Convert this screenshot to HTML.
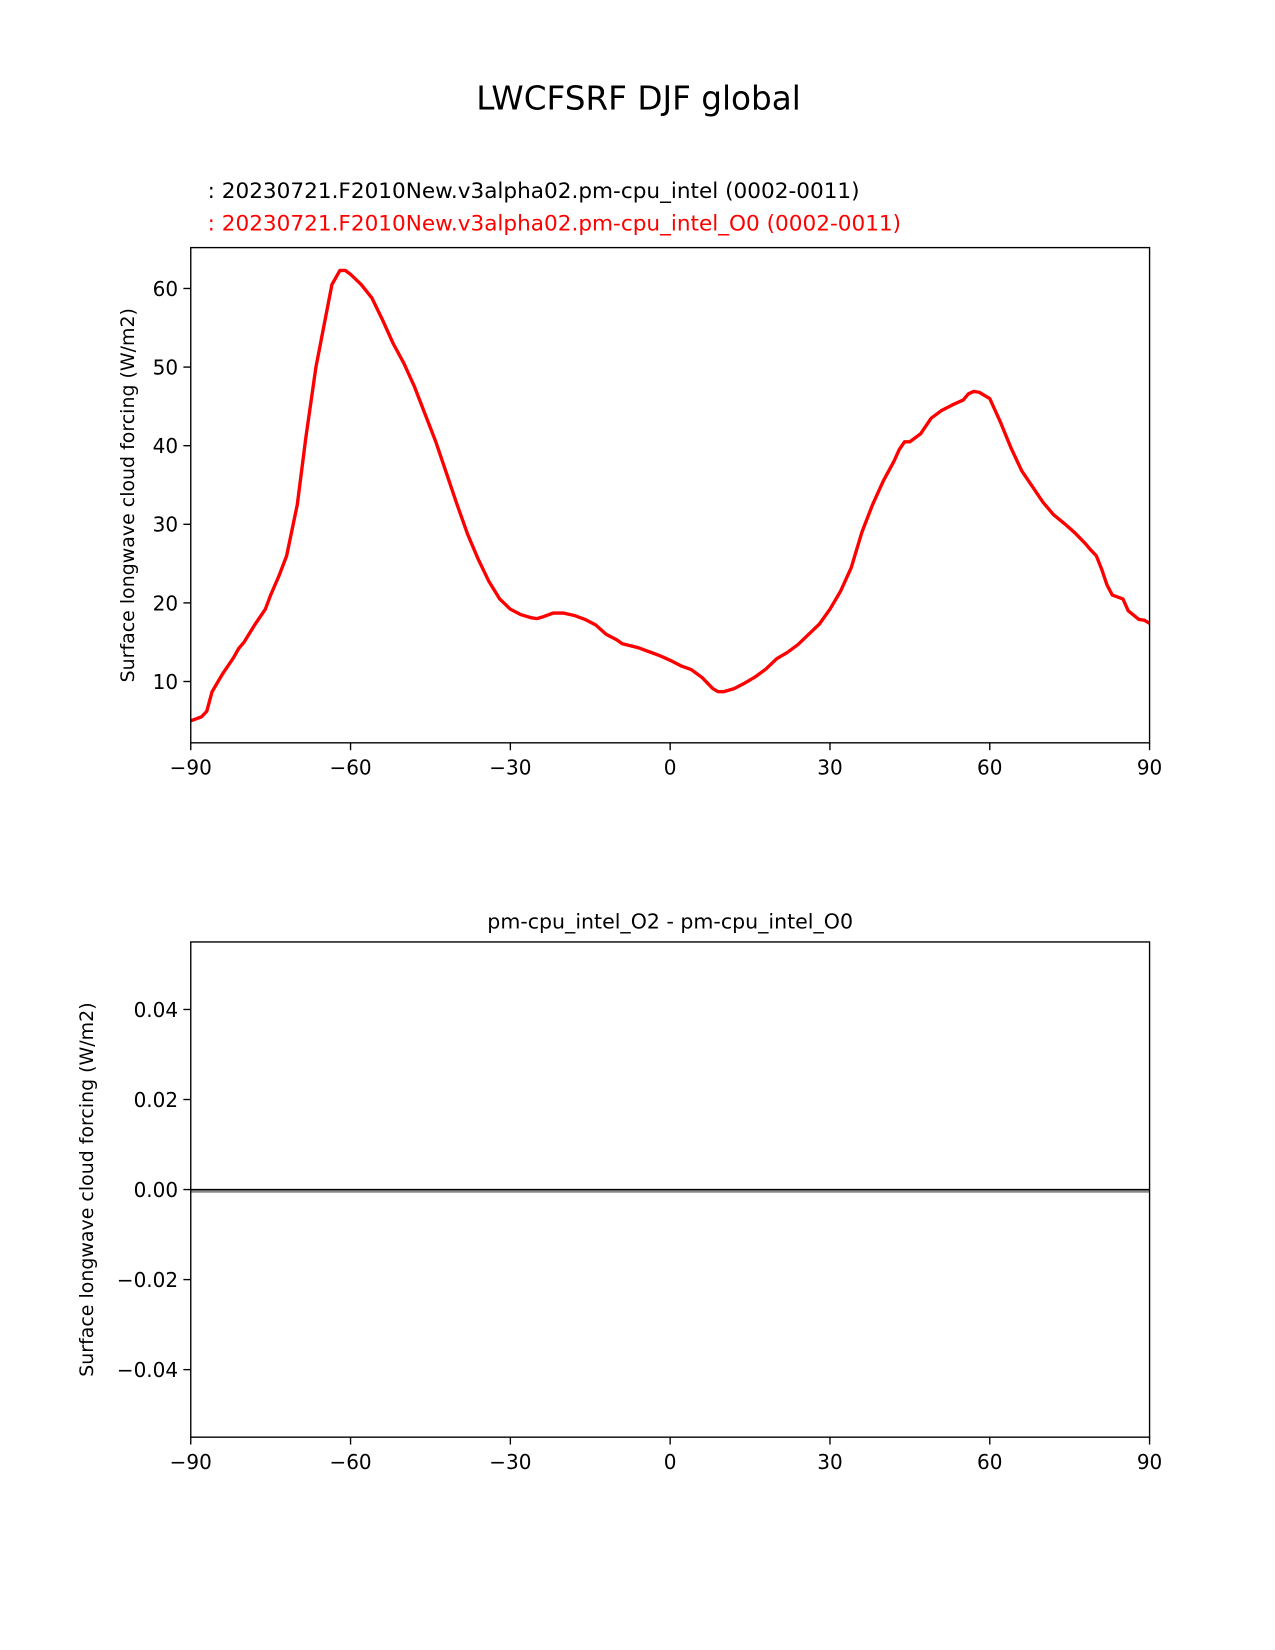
<!DOCTYPE html>
<html><head><meta charset="utf-8"><style>
html,body{margin:0;padding:0;background:#fff}
svg{display:block;font-family:"DejaVu Sans","Liberation Sans",sans-serif}
</style></head><body>
<svg id="fig" width="1275" height="1650" viewBox="0 0 1210 1566">
<text x="606" y="104" font-size="31" text-anchor="middle">LWCFSRF DJF global</text>
<text x="197" y="188" font-size="20.5" fill="#000">: 20230721.F2010New.v3alpha02.pm-cpu_intel (0002-0011)</text>
<text x="197" y="219" font-size="20.5" fill="#ff0000">: 20230721.F2010New.v3alpha02.pm-cpu_intel_O0 (0002-0011)</text>
<text x="636" y="881" font-size="19.5" text-anchor="middle">pm-cpu_intel_O2 - pm-cpu_intel_O0</text>
<g id="top"></g>
<g id="bot"></g>
</svg>
<script>
const lats = [-90,-88,-87,-86,-84,-82,-81,-80,-78,-76,-75,-73.4,-72,-70,-68.4,-66.5,-64.5,-63.5,-62,-61,-60,-58,-56,-54,-52,-50,-48,-46,-44,-42,-40,-38,-36,-34,-32,-30,-28,-26,-25,-24,-22,-20,-18,-16,-14,-12,-10,-9,-6,-4,-2,0,2,4,6,8,9,10,12,14,16,18,20,22,24,26,28,30,32,34,36,38,40,42,43,44,45,47,49,51,53,55,56,57,58,60,62,64,66,68,70,72,74,76,78,79,80,81,82,83,85,86,88,89,90];
const lwcf = [5,5.5,6.2,8.7,11,13,14.2,15,17.2,19.2,21,23.5,26,32.5,41,50,57,60.5,62.3,62.3,61.8,60.5,58.8,56,53,50.5,47.5,44,40.5,36.5,32.5,28.7,25.5,22.7,20.5,19.2,18.5,18.1,18,18.2,18.7,18.7,18.4,17.9,17.2,16,15.3,14.8,14.3,13.8,13.3,12.7,12,11.5,10.5,9.1,8.7,8.7,9.1,9.8,10.6,11.6,12.9,13.7,14.7,16,17.3,19.2,21.5,24.5,29,32.5,35.5,38,39.5,40.5,40.5,41.5,43.5,44.5,45.2,45.8,46.6,46.9,46.8,46,43,39.7,36.8,34.8,32.8,31.2,30.1,28.9,27.5,26.7,26,24.3,22.3,21,20.5,19,17.9,17.8,17.4,17.2];
const diff = lats.map(()=>0);
const xTicks = [-90,-60,-30,0,30,60,90];
const xTickLabels = ["\u221290","\u221260","\u221230","0","30","60","90"];
const yTicksTop = [10,20,30,40,50,60];
const yTicksBot = [-0.04,-0.02,0,0.02,0.04];
const yTickLabelsBot = ["\u22120.04","\u22120.02","0.00","0.02","0.04"];
const NS="http://www.w3.org/2000/svg";
function mk(p,t,a){const e=document.createElementNS(NS,t);for(const k in a)e.setAttribute(k,a[k]);p.appendChild(e);return e;}
function axes(g,top,bot,ymin,ymax,yt,ytl,ylabel,ylx){
  const L=181,R=1091;
  const X=v=>L+(v+90)/180*(R-L);
  const Y=v=>bot-(v-ymin)/(ymax-ymin)*(bot-top);
  xTicks.forEach((t,i)=>{
    const l=mk(g,'line',{x1:X(t),x2:X(t),y1:bot,y2:bot+7,stroke:'#000','stroke-width':1.3});
    
    
    const tx=mk(g,'text',{x:X(t),y:bot+30,'font-size':19,'text-anchor':'middle'});tx.textContent=xTickLabels[i];
    
    
  });
  yt.forEach((t,i)=>{
    const l=mk(g,'line',{x1:L-7,x2:L,y1:Y(t),y2:Y(t),stroke:'#000','stroke-width':1.3});
    
    
    const tx=mk(g,'text',{x:L-12,y:Y(t)+7,'font-size':19,'text-anchor':'end'});tx.textContent=ytl[i];
    
    
  });
  const yl=mk(g,'text',{x:0,y:0,'font-size':18,'text-anchor':'middle',transform:`translate(${ylx},${(top+bot)/2}) rotate(-90)`});
  yl.textContent=ylabel;
  
  
  return {X,Y,L,R};
}
const gt=document.getElementById('top');
const A=axes(gt,235,705,2.2,65.2,yTicksTop,yTicksTop.map(String),'Surface longwave cloud forcing (W/m2)',127);
const p1=mk(gt,'polyline',{points:lats.map((v,i)=>A.X(v)+','+A.Y(lwcf[i])).join(' '),fill:'none',stroke:'#ff0000','stroke-width':3.2,'stroke-linejoin':'round'});


const f1=mk(gt,'rect',{x:181,y:235,width:910,height:470,fill:'none',stroke:'#000','stroke-width':1.3});


const gb=document.getElementById('bot');
const B=axes(gb,894,1364,-0.055,0.055,yTicksBot,yTickLabelsBot,'Surface longwave cloud forcing (W/m2)',88);
const z=mk(gb,'line',{x1:181,x2:1091,y1:B.Y(0)+1.5,y2:B.Y(0)+1.5,stroke:'#888','stroke-width':3});


const p2=mk(gb,'polyline',{points:lats.map((v,i)=>B.X(v)+','+B.Y(diff[i])).join(' '),fill:'none',stroke:'#000','stroke-width':1.2});


const f2=mk(gb,'rect',{x:181,y:894,width:910,height:470,fill:'none',stroke:'#000','stroke-width':1.3});


</script>
</body></html>
